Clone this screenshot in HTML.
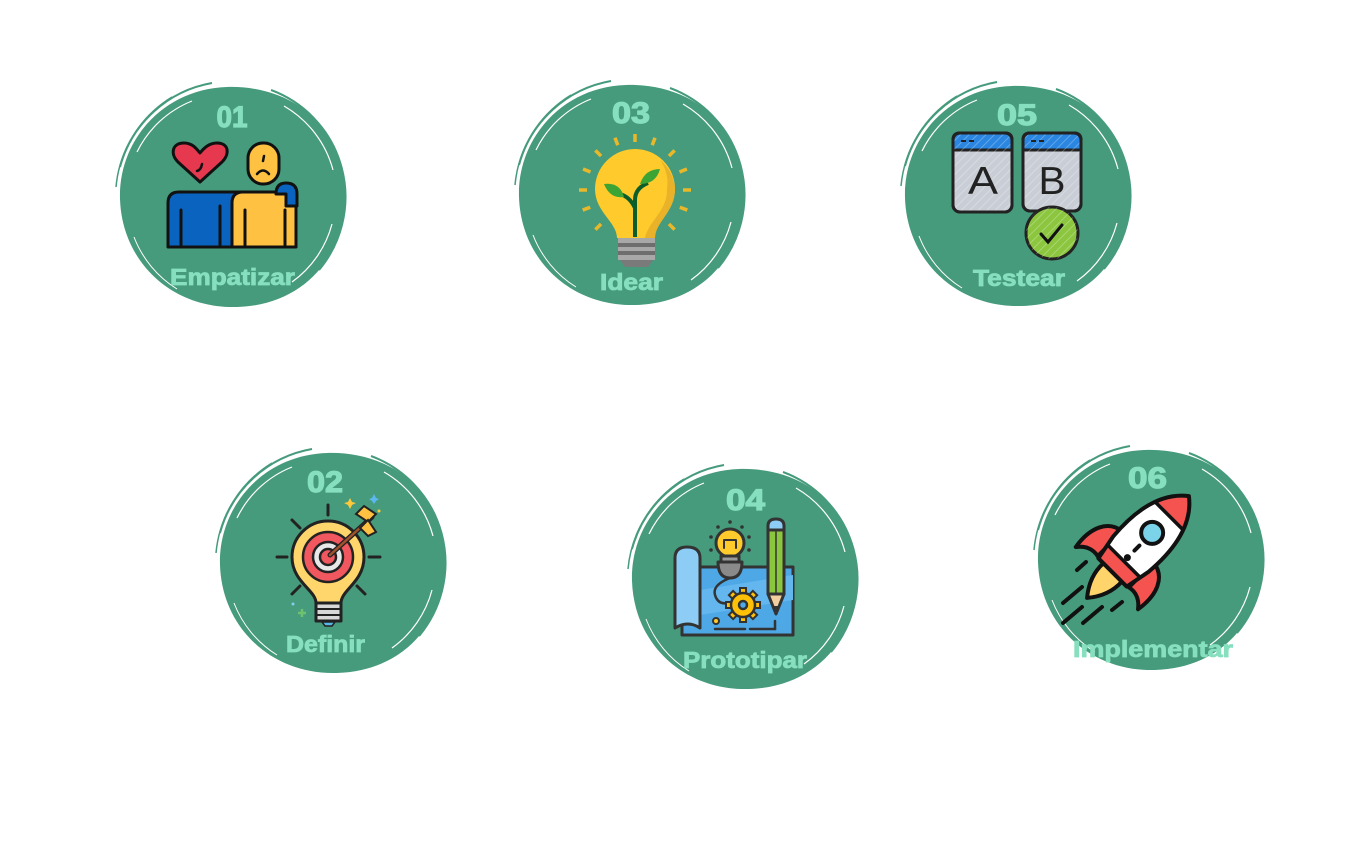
<!DOCTYPE html>
<html><head><meta charset="utf-8"><style>
html,body{margin:0;padding:0;background:#fff;}
svg{display:block;}
.n{font-family:"Liberation Sans",sans-serif;font-weight:bold;fill:#86DFBF;font-size:30px;stroke:#86DFBF;stroke-width:1.2px;}
.l{font-family:"Liberation Sans",sans-serif;font-weight:bold;fill:#86DFBF;font-size:23px;stroke:#86DFBF;stroke-width:0.8px;}
</style></head><body>
<svg width="1347" height="842" viewBox="0 0 1347 842" xmlns="http://www.w3.org/2000/svg">
<defs>
<g id="blob">
<path d="M-112,2 C-114,-55 -70,-108 -5,-110 C60,-112 112,-70 113,-5 C115,55 75,108 5,110 C-60,112 -110,65 -112,2 Z" fill="#469B7C"/>
<path d="M-112,-30 A116,116 0 0 1 -20,-114" stroke="#469B7C" stroke-width="2" fill="none"/>
<path d="M-116,-10 A118,118 0 0 1 -60,-100" stroke="#469B7C" stroke-width="1.5" fill="none"/>
<path d="M39,-107 A114,114 0 0 1 87,73" stroke="#469B7C" stroke-width="2" fill="none"/>
<path d="M-95,-45 A104,104 0 0 1 -40,-96" stroke="#fff" stroke-width="1.2" fill="none"/>
<path d="M52,-91 A105,105 0 0 1 101,-27" stroke="#fff" stroke-width="1.2" fill="none"/>
<path d="M100,27 A104,104 0 0 1 60,85" stroke="#fff" stroke-width="1.2" fill="none"/>
<path d="M-98,40 A106,106 0 0 0 -55,92" stroke="#fff" stroke-width="1" fill="none"/>
</g>
<pattern id="hatch" width="6" height="6" patternUnits="userSpaceOnUse" patternTransform="rotate(45)">
<line x1="0" y1="0" x2="0" y2="6" stroke="#ffffff" stroke-opacity="0.35" stroke-width="1.5"/>
</pattern>
</defs>

<use href="#blob" transform="translate(232,197)"/>
<use href="#blob" transform="translate(631,195)"/>
<use href="#blob" transform="translate(1017,196)"/>
<use href="#blob" transform="translate(332,563)"/>
<use href="#blob" transform="translate(744,579)"/>
<use href="#blob" transform="translate(1150,560)"/>

<!-- Icon 1 Empatizar -->
<g stroke="#111" stroke-width="3" stroke-linejoin="round" stroke-linecap="round">
<path d="M168,247 L168,203 Q168,192 179,192 L246,192 L246,247 Z" fill="#0B63C0"/>
<path d="M232,247 L232,203 Q232,192 243,192 L285,192 Q296,192 296,203 L296,247 Z" fill="#FFC142"/>
<path d="M276,194 Q276,183 286,183 Q297,183 297,194 L297,206 L286,206 L286,194 Z" fill="#0B63C0"/>
<line x1="181" y1="210" x2="181" y2="246"/>
<line x1="220" y1="206" x2="220" y2="246"/>
<line x1="245" y1="210" x2="245" y2="246"/>
<line x1="285" y1="210" x2="285" y2="246"/>
<path d="M200,182 L178,162 C170,154 172,143 184,143 C192,143 196,148 200,153 C204,148 209,143 217,143 C229,143 230,154 222,162 Z" fill="#E63950"/>
<path d="M202,164 Q201,170 197,171" fill="none" stroke-width="2.5"/>
<rect x="248" y="143" width="31" height="41" rx="15" fill="#FFC142"/>
<line x1="264" y1="156" x2="263" y2="161" stroke-width="2.5"/>
<path d="M257,174 Q263,167 269,174" fill="none" stroke-width="2.5"/>
</g>

<!-- Icon 3 Idear -->
<g stroke="#E9B82A" stroke-width="3.5" stroke-linecap="butt">
<g transform="translate(635,190)">
<line x1="0" y1="-48" x2="0" y2="-56" transform="rotate(0)"/>
<line x1="0" y1="-48" x2="0" y2="-56" transform="rotate(-21)"/>
<line x1="0" y1="-48" x2="0" y2="-56" transform="rotate(21)"/>
<line x1="0" y1="-48" x2="0" y2="-56" transform="rotate(-45)"/>
<line x1="0" y1="-48" x2="0" y2="-56" transform="rotate(45)"/>
<line x1="0" y1="-48" x2="0" y2="-56" transform="rotate(-68)"/>
<line x1="0" y1="-48" x2="0" y2="-56" transform="rotate(68)"/>
<line x1="0" y1="-48" x2="0" y2="-56" transform="rotate(-90)"/>
<line x1="0" y1="-48" x2="0" y2="-56" transform="rotate(90)"/>
<line x1="0" y1="-48" x2="0" y2="-56" transform="rotate(-111)"/>
<line x1="0" y1="-48" x2="0" y2="-56" transform="rotate(111)"/>
<line x1="0" y1="-48" x2="0" y2="-56" transform="rotate(-135)"/>
<line x1="0" y1="-48" x2="0" y2="-56" transform="rotate(135)"/>
</g>
</g>
<path d="M617,238 C617,222 595,212 595,189 A40,40 0 1 1 675,189 C675,212 655,222 655,238 Z" fill="#FFCA2C"/>
<path d="M660,160 A40,40 0 0 1 675,189 C675,212 655,222 655,238 L645,238 C648,222 668,210 667,189 A38,38 0 0 0 660,160 Z" fill="#E9B228"/>
<rect x="618" y="238" width="37" height="22" fill="#A8A8A8"/>
<rect x="618" y="243" width="37" height="4" fill="#6E6E6E"/>
<rect x="618" y="251" width="37" height="4" fill="#6E6E6E"/>
<path d="M620,260 L653,260 L648,267 L625,267 Z" fill="#7A7A7A"/>
<path d="M635,237 L635,200 Q635,188 648,183" fill="none" stroke="#0B5E2A" stroke-width="4"/>
<path d="M635,208 Q630,197 620,194" fill="none" stroke="#0B5E2A" stroke-width="4"/>
<path d="M640,184 Q645,169 660,169 Q656,184 640,184 Z" fill="#3BA435"/>
<path d="M624,197 Q610,199 604,184 Q620,182 624,197 Z" fill="#3BA435"/>

<!-- Icon 5 Testear -->
<g stroke="#222" stroke-width="3" stroke-linejoin="round">
<rect x="953" y="133" width="59" height="79" rx="7" fill="#C9CED6"/>
<path d="M953,150 L953,140 Q953,133 960,133 L1005,133 Q1012,133 1012,140 L1012,150 Z" fill="#2A86E0"/>
<rect x="953" y="133" width="59" height="79" rx="7" fill="url(#hatch)"/>
<rect x="1023" y="133" width="58" height="78" rx="7" fill="#C9CED6"/>
<path d="M1023,150 L1023,140 Q1023,133 1030,133 L1074,133 Q1081,133 1081,140 L1081,150 Z" fill="#2A86E0"/>
<rect x="1023" y="133" width="58" height="78" rx="7" fill="url(#hatch)"/>
</g>
<g stroke="#222" stroke-width="2">
<line x1="961" y1="141" x2="966" y2="141"/><line x1="969" y1="141" x2="974" y2="141"/>
<line x1="1031" y1="141" x2="1036" y2="141"/><line x1="1039" y1="141" x2="1044" y2="141"/>
</g>
<text x="983" y="194" text-anchor="middle" font-family="Liberation Sans, sans-serif" font-size="39" fill="#222" textLength="30" lengthAdjust="spacingAndGlyphs">A</text>
<text x="1052" y="194" text-anchor="middle" font-family="Liberation Sans, sans-serif" font-size="39" fill="#222" textLength="27" lengthAdjust="spacingAndGlyphs">B</text>
<circle cx="1052" cy="233" r="26" fill="#8CC63F" stroke="#222" stroke-width="3"/>
<circle cx="1052" cy="233" r="26" fill="url(#hatch)"/>
<path d="M1041,234 L1048,242 L1062,225" fill="none" stroke="#111" stroke-width="3" stroke-linecap="round"/>

<!-- Icon 2 Definir -->
<g stroke="#222" stroke-width="3" stroke-linecap="round">
<line x1="328" y1="505" x2="328" y2="515"/>
<line x1="277" y1="557" x2="287" y2="557"/>
<line x1="369" y1="557" x2="380" y2="557"/>
<line x1="292" y1="520" x2="300" y2="528"/>
<line x1="292" y1="594" x2="300" y2="586"/>
<line x1="357" y1="586" x2="365" y2="594"/>
</g>
<g stroke="#222" stroke-width="3" stroke-linejoin="round">
<path d="M316,603 C316,590 292,582 292,557 A36,36 0 1 1 364,557 C364,582 341,590 341,603 Z" fill="#FFD66B"/>
<rect x="316" y="603" width="25" height="18" fill="#D8D8D8"/>
<circle cx="328" cy="557" r="25" fill="#F0575E" stroke-width="2.5"/>
<circle cx="328" cy="557" r="15" fill="#E8E8E8" stroke-width="2.5"/>
<circle cx="328" cy="557" r="8" fill="#F0575E" stroke-width="2.5"/>
</g>
<line x1="316" y1="609" x2="341" y2="609" stroke="#222" stroke-width="2"/>
<line x1="316" y1="615" x2="341" y2="615" stroke="#222" stroke-width="2"/>
<path d="M322,622 L335,622 L332,626 L325,626 Z" fill="#57B7E8" stroke="#222" stroke-width="1.5"/>
<line x1="330" y1="555" x2="372" y2="517" stroke="#222" stroke-width="5" stroke-linecap="round"/>
<line x1="330" y1="555" x2="372" y2="517" stroke="#A0522D" stroke-width="2.5" stroke-linecap="round"/>
<path d="M356,514 L364,506 L376,514 L368,522 Z" fill="#FFC142" stroke="#222" stroke-width="2"/>
<path d="M360,528 L368,520 L376,532 L368,536 Z" fill="#FFC142" stroke="#222" stroke-width="2"/>
<path d="M350,498 L352,502 L356,503 L352,505 L350,509 L348,505 L344,503 L348,502 Z" fill="#FFC93C"/>
<path d="M374,494 L376,498 L379,499 L376,501 L374,504 L372,501 L369,499 L372,498 Z" fill="#5DB7F0"/>
<circle cx="379" cy="511" r="1.5" fill="#FFC93C"/>
<path d="M302,609 L302,617 M298,613 L306,613" stroke="#6CC26E" stroke-width="2.5"/>
<circle cx="293" cy="604" r="1.5" fill="#7FD0F0"/>

<!-- Icon 4 Prototipar -->
<g stroke="#333" stroke-width="3" stroke-linejoin="round" stroke-linecap="round">
<rect x="682" y="567" width="111" height="68" fill="#4EA8E6"/>
<path d="M700,590 L793,575 L793,600 L700,615 Z" fill="#63B6EE" stroke="none"/>
<path d="M675,628 L675,558 Q675,547 687,547 Q700,547 700,558 L700,628 Q688,620 675,628 Z" fill="#8DCDF5"/>
<line x1="715" y1="629" x2="745" y2="629" stroke-width="2.5"/>
<line x1="750" y1="629" x2="775" y2="629" stroke-width="2.5"/>
<line x1="775" y1="621" x2="775" y2="629" stroke-width="2.5"/>
<circle cx="716" cy="621" r="3" fill="#FFCA2C" stroke-width="2"/>
<path d="M730,578 Q712,585 715,595 Q718,605 728,603" fill="none" stroke-width="2.5"/>
<circle cx="730" cy="543" r="14" fill="#FFCA2C"/>
<path d="M724,548 L724,540 L736,540 L736,548" fill="none" stroke-width="2"/>
<rect x="721" y="556" width="18" height="6" fill="#999"/>
<path d="M718,562 L742,562 Q742,578 730,578 Q718,578 718,562 Z" fill="#8A8A8A"/>
<rect x="768" y="530" width="16" height="64" fill="#8CC63F"/>
<line x1="776" y1="532" x2="776" y2="592" stroke-width="1.5"/>
<path d="M768,530 L768,526 Q768,519 776,519 Q784,519 784,526 L784,530 Z" fill="#8DCDF5"/>
<path d="M768,594 L776,614 L784,594 Z" fill="#F3CFA0"/>
</g>
<path d="M773,606 L776,614 L779,606 Z" fill="#333"/>
<g fill="#333">
<circle cx="718" cy="527" r="1.8"/><circle cx="730" cy="522" r="1.8"/><circle cx="742" cy="527" r="1.8"/>
<circle cx="711" cy="537" r="1.8"/><circle cx="749" cy="537" r="1.8"/>
<circle cx="711" cy="550" r="1.8"/><circle cx="749" cy="550" r="1.8"/>
</g>
<g transform="translate(743,605)">
<g fill="#FFC107" stroke="#333" stroke-width="2">
<rect x="-3" y="-17" width="6" height="34"/>
<rect x="-3" y="-17" width="6" height="34" transform="rotate(45)"/>
<rect x="-3" y="-17" width="6" height="34" transform="rotate(90)"/>
<rect x="-3" y="-17" width="6" height="34" transform="rotate(135)"/>
</g>
<circle r="12" fill="#FFC107" stroke="#333" stroke-width="2.5"/>
<circle r="4" fill="#4EA8E6" stroke="#333" stroke-width="2.5"/>
</g>

<!-- Icon 6 Rocket -->
<g stroke="#111" stroke-width="4" stroke-linecap="round">
<line x1="1077" y1="570" x2="1086" y2="562"/>
<line x1="1063" y1="603" x2="1082" y2="587"/>
<line x1="1063" y1="623" x2="1082" y2="607"/>
<line x1="1083" y1="623" x2="1102" y2="607"/>
<line x1="1112" y1="610" x2="1122" y2="602"/>
</g>
<g transform="translate(1138,547) rotate(45)" stroke="#111" stroke-width="4" stroke-linejoin="round">
<path d="M-22,0 C-40,2 -48,20 -44,44 C-38,36 -30,33 -22,35 Z" fill="#F4534F"/>
<path d="M22,0 C40,2 48,20 44,44 C38,36 30,33 22,35 Z" fill="#F4534F"/>
<path d="M-13,36 C-14,54 -5,66 0,72 C5,66 14,54 13,36 Z" fill="#FFD56B"/>
<clipPath id="rb"><path d="M0,-72 C22,-55 28,-25 25,10 L20,36 L-20,36 L-25,10 C-28,-25 -22,-55 0,-72 Z"/></clipPath>
<path d="M0,-72 C22,-55 28,-25 25,10 L20,36 L-20,36 L-25,10 C-28,-25 -22,-55 0,-72 Z" fill="#fff" stroke="none"/>
<g clip-path="url(#rb)" stroke="none" fill="#F4534F">
<rect x="-30" y="-80" width="60" height="36"/>
<rect x="-30" y="20" width="60" height="20"/>
</g>
<g clip-path="url(#rb)" stroke="#111" stroke-width="3.5">
<line x1="-30" y1="-44" x2="30" y2="-44"/>
<line x1="-30" y1="20" x2="30" y2="20"/>
</g>
<path d="M0,-72 C22,-55 28,-25 25,10 L20,36 L-20,36 L-25,10 C-28,-25 -22,-55 0,-72 Z" fill="none"/>
<circle cx="0" cy="-20" r="11" fill="#7BD3EA"/>
<line x1="0" y1="-2" x2="0" y2="5" stroke-linecap="round"/>
<circle cx="0" cy="15" r="1.5" fill="#111"/>
</g>

<!-- Labels -->
<text class="n" x="232" y="127" text-anchor="middle" textLength="31" lengthAdjust="spacingAndGlyphs">01</text>
<text class="l" x="232.5" y="285" text-anchor="middle" textLength="125" lengthAdjust="spacingAndGlyphs">Empatizar</text>
<text class="n" x="631" y="123" text-anchor="middle" textLength="38" lengthAdjust="spacingAndGlyphs">03</text>
<text class="l" x="631.5" y="290" text-anchor="middle" textLength="63" lengthAdjust="spacingAndGlyphs">Idear</text>
<text class="n" x="1017" y="125" text-anchor="middle" textLength="40" lengthAdjust="spacingAndGlyphs">05</text>
<text class="l" x="1019" y="286" text-anchor="middle" textLength="92" lengthAdjust="spacingAndGlyphs">Testear</text>
<text class="n" x="325" y="492" text-anchor="middle" textLength="36" lengthAdjust="spacingAndGlyphs">02</text>
<text class="l" x="325.5" y="652" text-anchor="middle" textLength="79" lengthAdjust="spacingAndGlyphs">Definir</text>
<text class="n" x="745.5" y="510" text-anchor="middle" textLength="39" lengthAdjust="spacingAndGlyphs">04</text>
<text class="l" x="745" y="668" text-anchor="middle" textLength="124" lengthAdjust="spacingAndGlyphs">Prototipar</text>
<text class="n" x="1147.5" y="488" text-anchor="middle" textLength="39" lengthAdjust="spacingAndGlyphs">06</text>
<text class="l" x="1153" y="657" text-anchor="middle" textLength="160" lengthAdjust="spacingAndGlyphs">Implementar</text>
</svg>
</body></html>
